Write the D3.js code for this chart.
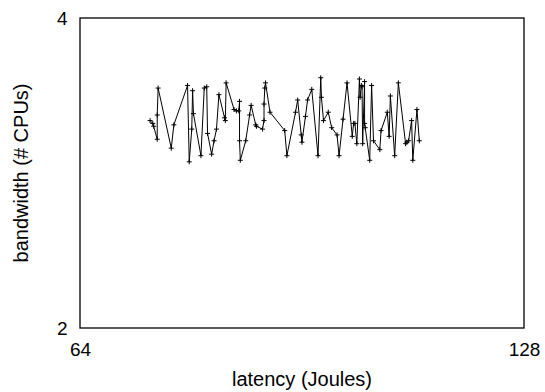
<!DOCTYPE html>
<html>
<head>
<meta charset="utf-8">
<script src="https://cdn.jsdelivr.net/npm/d3@7"></script>
<style>
  body { margin: 0; background: #fff; }
  text { font-family: "Liberation Sans", Arial, sans-serif; fill: #000; }
</style>
</head>
<body>
<div id="chart"></div>
<script>
// latency (Joules) values, in plotted order
const latency = [71.4, 71.7, 71.8, 72.2, 72.2, 72.3, 73.8, 74.1, 75.7, 75.9,
  76.2, 76.3, 76.4, 77.3, 77.7, 78.0, 78.1, 78.6, 78.9, 79.2,
  79.5, 80.2, 80.3, 80.4, 81.4, 81.7, 82.0, 82.1, 82.1, 82.2,
  82.9, 83.4, 83.6, 84.2, 84.3, 85.1, 85.3, 85.3, 85.4, 85.5,
  86.1, 88.1, 88.4, 89.6, 89.9, 90.4, 90.5, 91.0, 91.3, 91.9,
  92.8, 93.2, 93.3, 93.6, 94.3, 94.8, 95.6, 95.9, 96.5, 97.1,
  97.9, 98.1, 98.3, 98.6, 99.0, 99.1, 99.3, 99.4, 99.5, 99.8,
  99.8, 99.9, 100.6, 100.9, 101.2, 102.2, 102.4, 103.4, 103.7, 103.9,
  104.6, 105.2, 106.4, 106.6, 106.9, 107.4, 107.6, 108.3, 108.7];
// bandwidth (# CPUs) values
const bandwidth = [3.18, 3.16, 3.14, 3.05, 3.22, 3.42, 2.99, 3.15, 3.44, 2.90,
  3.12, 3.40, 3.23, 2.94, 3.42, 3.43, 3.09, 2.95, 3.04, 3.12,
  3.37, 3.20, 3.18, 3.46, 3.26, 3.25, 3.25, 3.32, 3.04, 2.91,
  3.04, 3.22, 3.29, 3.15, 3.14, 3.12, 3.18, 3.30, 3.42, 3.46,
  3.24, 3.11, 2.94, 3.24, 3.33, 3.08, 3.03, 3.21, 3.33, 3.41,
  2.94, 3.50, 3.35, 3.18, 3.24, 3.13, 3.08, 2.94, 3.19, 3.46,
  3.07, 3.16, 3.16, 3.02, 3.49, 3.35, 3.44, 3.43, 3.02, 3.47,
  3.16, 3.13, 2.91, 3.44, 3.04, 2.98, 3.11, 3.24, 3.07, 3.36,
  2.94, 3.46, 3.02, 3.03, 3.04, 3.18, 2.91, 3.26, 3.04];

const xTicks = [64, 128];
const yTicks = [2, 4];

const width = 545, height = 392;
const margin = {top: 18, right: 21, bottom: 64, left: 80};

const svg = d3.select("#chart").append("svg")
  .attr("width", width)
  .attr("height", height);

const x = d3.scaleLog().base(2).domain([64, 128])
  .range([margin.left, width - margin.right]);
const y = d3.scaleLog().base(2).domain([2, 4])
  .range([height - margin.bottom, margin.top]);

const pts = d3.zip(latency, bandwidth);

// the data line
const line = d3.line()
  .x(d => x(d[0]))
  .y(d => y(d[1]));

svg.append("path")
  .attr("d", line(pts))
  .attr("fill", "none")
  .attr("stroke", "#000")
  .attr("stroke-width", 1);

// "+" markers
const s = 2.5;
svg.append("g")
  .selectAll("path")
  .data(pts)
  .enter()
  .append("path")
  .attr("d", d => {
    const cx = x(d[0]), cy = y(d[1]);
    return `M${cx - s},${cy}H${cx + s}M${cx},${cy - s}V${cy + s}`;
  })
  .attr("stroke", "#000")
  .attr("stroke-width", 1);

// frame
svg.append("rect")
  .attr("x", margin.left)
  .attr("y", margin.top)
  .attr("width", width - margin.left - margin.right)
  .attr("height", height - margin.top - margin.bottom)
  .attr("fill", "none")
  .attr("stroke", "#000")
  .attr("stroke-width", 1.3);

// axes (labels only)
const gx = svg.append("g")
  .attr("transform", `translate(0,${height - margin.bottom})`)
  .call(d3.axisBottom(x).tickValues(xTicks).tickSize(0).tickPadding(15).tickFormat(d => d));
gx.select(".domain").remove();
gx.selectAll("text").style("font-size", "19px").attr("fill", "#000");

const gy = svg.append("g")
  .attr("transform", `translate(${margin.left},0)`)
  .call(d3.axisLeft(y).tickValues(yTicks).tickSize(0).tickPadding(12.5).tickFormat(d => d));
gy.select(".domain").remove();
gy.selectAll("text").style("font-size", "19px").attr("fill", "#000");

// axis titles
svg.append("text")
  .attr("x", (margin.left + width - margin.right) / 2)
  .attr("y", 386)
  .attr("text-anchor", "middle")
  .style("font-size", "20px")
  .text("latency (Joules)");

svg.append("text")
  .attr("transform", `translate(28,${(margin.top + height - margin.bottom) / 2}) rotate(-90)`)
  .attr("text-anchor", "middle")
  .style("font-size", "20px")
  .text("bandwidth (# CPUs)");
</script>
</body>
</html>
